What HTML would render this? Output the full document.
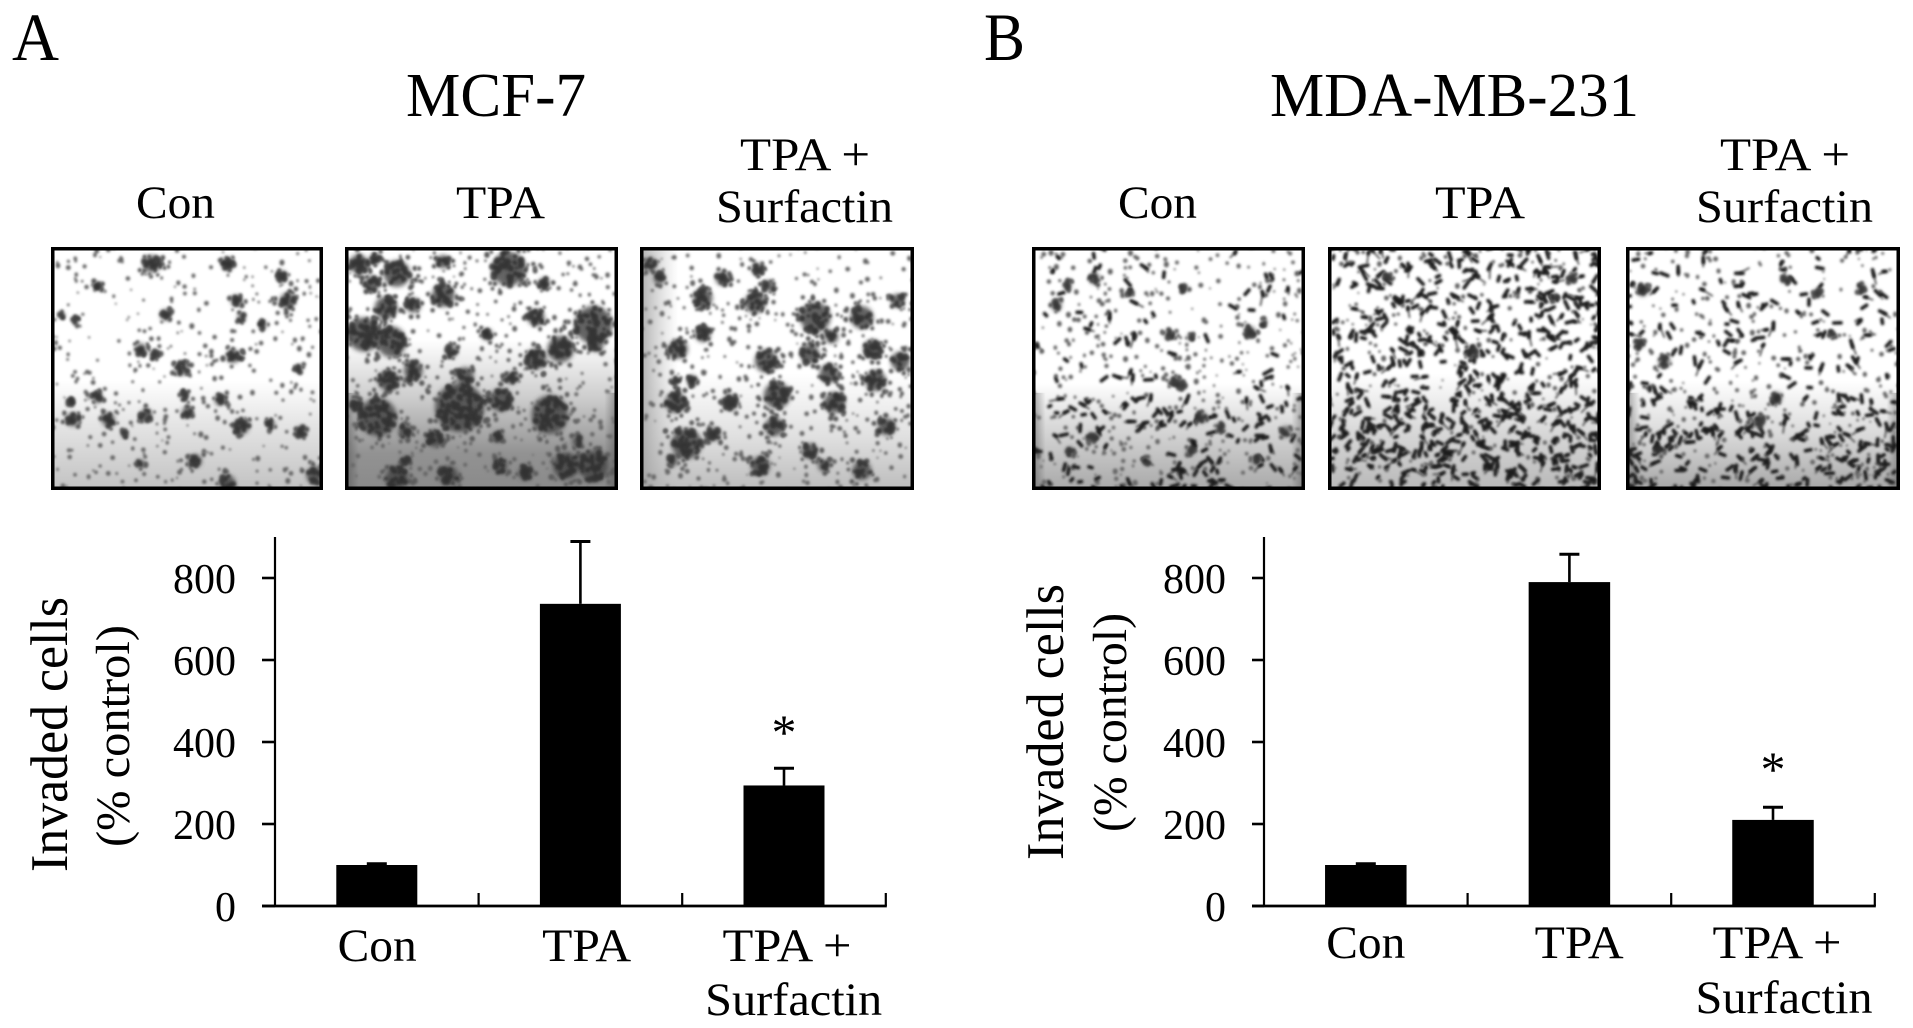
<!DOCTYPE html>
<html lang="en">
<head>
<meta charset="utf-8">
<title>Invasion assay: MCF-7 and MDA-MB-231</title>
<style>
  html,body{margin:0;padding:0;background:#fff;width:1913px;height:1028px;overflow:hidden}
  svg{display:block}
  text{font-family:"Liberation Serif","Times New Roman",serif;fill:#000}
</style>
</head>
<body>
<svg id="figure" width="1913" height="1028" viewBox="0 0 1913 1028" xmlns="http://www.w3.org/2000/svg">
  <defs>
    <filter id="soft" filterUnits="userSpaceOnUse" x="0" y="240" width="1913" height="260"><feGaussianBlur stdDeviation="1.2"/></filter>
    <filter id="softer" filterUnits="userSpaceOnUse" x="0" y="240" width="1913" height="260"><feGaussianBlur stdDeviation="2.4"/></filter>
    <linearGradient id="g0" x1="0" y1="0" x2="0" y2="1"><stop offset=".55" stop-color="#fff"/><stop offset=".72" stop-color="#e6e6e6"/><stop offset="1" stop-color="#c2c2c2"/></linearGradient>
    <linearGradient id="g1" x1="0" y1="0" x2="0" y2="1"><stop offset=".38" stop-color="#fff"/><stop offset=".62" stop-color="#cdcdcd"/><stop offset=".85" stop-color="#929292"/><stop offset="1" stop-color="#8a8a8a"/></linearGradient>
    <linearGradient id="g2" x1="0" y1="0" x2="0" y2="1"><stop offset=".52" stop-color="#fff"/><stop offset=".78" stop-color="#e0e0e0"/><stop offset="1" stop-color="#bcbcbc"/></linearGradient>
    <linearGradient id="g3" x1="0" y1="0" x2="0" y2="1"><stop offset=".56" stop-color="#fff"/><stop offset=".72" stop-color="#dcdcdc"/><stop offset="1" stop-color="#a8a8a8"/></linearGradient>
    <linearGradient id="g4" x1="0" y1="0" x2="0" y2="1"><stop offset=".52" stop-color="#fff"/><stop offset=".76" stop-color="#d8d8d8"/><stop offset="1" stop-color="#b8b8b8"/></linearGradient>
    <linearGradient id="g5" x1="0" y1="0" x2="0" y2="1"><stop offset=".55" stop-color="#fff"/><stop offset=".78" stop-color="#d8d8d8"/><stop offset="1" stop-color="#a6a6a6"/></linearGradient>
    <linearGradient id="edge" x1="0" y1="0" x2="1" y2="0"><stop offset="0" stop-color="#999" stop-opacity=".8"/><stop offset=".14" stop-color="#bbb" stop-opacity="0"/></linearGradient>
    <linearGradient id="rim" x1="0" y1="0" x2="1" y2="0"><stop offset="0" stop-color="#333" stop-opacity=".45"/><stop offset=".05" stop-color="#333" stop-opacity="0"/><stop offset=".95" stop-color="#333" stop-opacity="0"/><stop offset="1" stop-color="#333" stop-opacity=".45"/></linearGradient>
  </defs>

  <text x="12" y="60" font-size="68" textLength="47" lengthAdjust="spacingAndGlyphs">A</text>
  <text x="984" y="60" font-size="68" textLength="41" lengthAdjust="spacingAndGlyphs">B</text>
  <text x="406" y="116" font-size="62" textLength="180" lengthAdjust="spacingAndGlyphs">MCF-7</text>
  <text x="1270" y="116" font-size="62" textLength="369" lengthAdjust="spacingAndGlyphs">MDA-MB-231</text>

  <text x="136" y="218" font-size="47" textLength="79" lengthAdjust="spacingAndGlyphs">Con</text>
  <text x="456" y="218" font-size="47" textLength="89" lengthAdjust="spacingAndGlyphs">TPA</text>
  <text x="740" y="170" font-size="47" textLength="130" lengthAdjust="spacingAndGlyphs">TPA +</text>
  <text x="716" y="222" font-size="47" textLength="177" lengthAdjust="spacingAndGlyphs">Surfactin</text>

  <text x="1118" y="218" font-size="47" textLength="79" lengthAdjust="spacingAndGlyphs">Con</text>
  <text x="1435" y="218" font-size="47" textLength="90" lengthAdjust="spacingAndGlyphs">TPA</text>
  <text x="1720" y="170" font-size="47" textLength="130" lengthAdjust="spacingAndGlyphs">TPA +</text>
  <text x="1696" y="222" font-size="47" textLength="177" lengthAdjust="spacingAndGlyphs">Surfactin</text>

  <g id="m0"></g>
  <g id="m1"></g>
  <g id="m2"></g>
  <g id="m3"></g>
  <g id="m4"></g>
  <g id="m5"></g>

  <text transform="translate(67,872) rotate(-90)" font-size="53" textLength="275" lengthAdjust="spacingAndGlyphs">Invaded cells</text>
  <text transform="translate(129,847) rotate(-90)" font-size="48" textLength="222" lengthAdjust="spacingAndGlyphs">(% control)</text>
  <text transform="translate(1063,860) rotate(-90)" font-size="53" textLength="276" lengthAdjust="spacingAndGlyphs">Invaded cells</text>
  <text transform="translate(1126,832) rotate(-90)" font-size="48" textLength="219" lengthAdjust="spacingAndGlyphs">(% control)</text>

  <g id="chart-a"></g>
  <g id="chart-b"></g>
</svg>

<script>
/* ---------- chart data ---------- */
const categories = ['Con', 'TPA', 'TPA +|Surfactin'];
const yTickValues = [0, 200, 400, 600, 800];
const yTickLabels = ['0', '200', '400', '600', '800'];
const mcf7Values = [100, 737, 294];
const mcf7Errors = [3, 152, 42];
const mcf7Significant = [false, false, true];
const mdaValues = [100, 790, 210];
const mdaErrors = [3, 68, 31];
const mdaSignificant = [false, false, true];

const NS = 'http://www.w3.org/2000/svg';
function make(tag, attrs, parent) {
  const node = document.createElementNS(NS, tag);
  for (const k in attrs) node.setAttribute(k, attrs[k]);
  parent.appendChild(node);
  return node;
}

function drawChart(host, key, values, errors, significant, L) {
  const yScale = v => L.baseY - v * L.pxPerUnit;
  const bandLeft = i => L.axisX + i * L.band;
  const xScale = i => bandLeft(i) + L.band / 2;

  values.forEach((v, i) => {
    const cx = xScale(i);
    const bar = make('rect', {x: cx - L.barW / 2, y: yScale(v), width: L.barW, height: L.baseY - yScale(v), fill: '#000'}, host);
    
    

    const top = yScale(v + errors[i]);
    const stem = make('line', {x1: cx, x2: cx, y1: yScale(v), y2: top, stroke: '#000', 'stroke-width': 2.6}, host);
    
    

    const cap = make('line', {x1: cx - 10, x2: cx + 10, y1: top, y2: top, stroke: '#000', 'stroke-width': 3}, host);
    
    

    if (significant[i]) {
      const star = make('text', {x: cx, y: top - L.starGap, 'font-size': 50, 'text-anchor': 'middle'}, host);
      star.textContent = '*';
      
      
    }

    const lines = categories[i].split('|');
    lines.forEach((line, j) => {
      const wide = line === 'Surfactin';
      const label = make('text', {
        x: cx + L.labelNudge[i] + (wide ? L.surfNudge : 0),
        y: L.labelY + j * L.lineGap,
        'font-size': 47,
        'text-anchor': 'middle',
        textLength: wide ? 177 : (line === 'Con' ? 79 : (line === 'TPA' ? 89 : 129)),
        lengthAdjust: 'spacingAndGlyphs'
      }, host);
      label.textContent = line;
      
      
    });
  });

  const yAxis = make('line', {x1: L.axisX, x2: L.axisX, y1: L.topY, y2: L.baseY + 1, stroke: '#000', 'stroke-width': 2.2}, host);
  
  

  const xAxis = make('line', {x1: L.tickLeft, x2: L.axisX + L.band * categories.length + 1, y1: L.baseY, y2: L.baseY, stroke: '#000', 'stroke-width': 2.8}, host);
  
  

  yTickValues.forEach((t, i) => {
    const y = yScale(t);
    const tick = make('line', {x1: L.tickLeft, x2: L.axisX, y1: y, y2: y, stroke: '#000', 'stroke-width': 2.6}, host);
    
    

    const label = make('text', {x: L.tickLabelX, y: y + 15, 'font-size': 42, 'text-anchor': 'end'}, host);
    label.textContent = yTickLabels[i];
    
    
  });

  categories.forEach((c, i) => {
    const x = bandLeft(i + 1);
    const tick = make('line', {x1: x, x2: x, y1: L.baseY - 13, y2: L.baseY, stroke: '#000', 'stroke-width': 2.2}, host);
    
    
  });
}

drawChart(document.getElementById('chart-a'), 'mcf7', mcf7Values, mcf7Errors, mcf7Significant, {
  axisX: 275, tickLeft: 262, baseY: 906, topY: 537, pxPerUnit: 0.41, band: 203.6, barW: 81,
  tickLabelX: 236, labelY: 961, lineGap: 54, labelNudge: [0.4, 6.2, 3], surfNudge: 6.7, starGap: 19
});
drawChart(document.getElementById('chart-b'), 'mda', mdaValues, mdaErrors, mdaSignificant, {
  axisX: 1264, tickLeft: 1252, baseY: 906, topY: 537, pxPerUnit: 0.41, band: 203.6, barW: 81.5,
  tickLabelX: 1226, labelY: 958, lineGap: 55, labelNudge: [0, 9.8, 4], surfNudge: 7, starGap: 21
});

/* ---------- micrograph textures (photographic content, not chart data) ---------- */
function seeded(a) {
  return function () {
    a |= 0; a = a + 0x6D2B79F5 | 0;
    let t = Math.imul(a ^ a >>> 15, 1 | a);
    t = t + Math.imul(t ^ t >>> 7, 61 | t) ^ t;
    return ((t ^ t >>> 14) >>> 0) / 4294967296;
  };
}
function dot(x, y, r) {
  return 'M' + (x - r).toFixed(1) + ' ' + y.toFixed(1) + 'a' + r.toFixed(1) + ' ' + r.toFixed(1) + ' 0 1 0 ' + (2 * r).toFixed(1) + ' 0a' + r.toFixed(1) + ' ' + r.toFixed(1) + ' 0 1 0 ' + (-2 * r).toFixed(1) + ' 0';
}

const clumpsACon = [[.37,.07,9],[.65,.07,6],[.85,.12,5],[.87,.22,8],[.17,.16,4],[.68,.22,5],[.42,.28,5],[.70,.29,4],[.78,.32,4],[.09,.30,3],[.04,.28,3],[.67,.45,7],[.33,.42,6],[.38,.44,4],[.48,.50,7],[.91,.50,4],[.17,.62,5],[.62,.63,5],[.49,.61,4],[.08,.71,7],[.21,.71,7],[.35,.69,6],[.50,.68,5],[.70,.74,8],[.81,.73,4],[.92,.76,5],[.53,.88,7],[.65,.97,8],[.97,.94,9],[.33,.89,4],[.07,.64,3],[.27,.77,3]];
const clumpsATpa = [[.05,.07,10],[.11,.05,5],[.19,.11,14],[.10,.15,8],[.36,.06,7],[.36,.20,12],[.60,.09,18],[.73,.15,6],[.15,.25,12],[.25,.24,8],[.70,.29,9],[.07,.36,18],[.17,.39,15],[.91,.32,20],[.92,.40,8],[.79,.42,14],[.70,.46,11],[.39,.43,6],[.52,.36,6],[.25,.51,10],[.16,.55,11],[.44,.53,9],[.61,.54,6],[.42,.66,26],[.57,.63,12],[.75,.69,19],[.12,.70,20],[.22,.76,7],[.33,.79,9],[.56,.78,5],[.85,.80,5],[.22,.88,4],[.81,.90,14],[.91,.90,16],[.57,.90,7],[.66,.93,7],[.38,.94,10],[.19,.95,12],[.04,.65,6]];
const clumpsASurf = [[.04,.07,6],[.07,.13,6],[.30,.13,7],[.43,.09,6],[.47,.16,6],[.23,.21,10],[.42,.23,11],[.94,.22,7],[.64,.29,16],[.81,.29,12],[.23,.36,8],[.14,.42,10],[.70,.37,7],[.85,.42,10],[.62,.44,10],[.95,.47,10],[.46,.47,12],[.69,.52,10],[.86,.55,11],[.19,.55,5],[.13,.55,4],[.50,.61,14],[.13,.64,11],[.71,.64,11],[.33,.64,8],[.49,.74,10],[.17,.81,16],[.27,.77,7],[.90,.74,9],[.62,.84,8],[.44,.90,10],[.81,.92,10],[.67,.90,6],[.12,.88,5]];
const clumpsBCon = [[.09,.24,5],[.13,.16,4],[.23,.13,5],[.36,.19,3],[.56,.17,3],[.80,.35,5],[.85,.31,3],[.50,.36,4],[.58,.37,3],[.52,.55,4],[.55,.57,4],[.62,.70,5],[.69,.74,4],[.93,.76,5],[.22,.78,4],[.14,.84,4],[.42,.88,3],[.58,.84,4],[.82,.88,4]];
const clumpsBTpa = [[.53,.43,6],[.89,.13,4],[.83,.21,3],[.22,.13,4]];
const clumpsBSurf = [[.14,.47,6],[.05,.40,4],[.48,.72,6],[.55,.62,5],[.70,.19,4],[.86,.17,4],[.58,.13,4],[.06,.18,5],[.12,.84,4],[.75,.36,3]];

const micrographs = [
  {x: 51,   w: 272, grad: 'g0', seed: 11, clumps: clumpsACon,  specks: 380, streaks: 0,   lowBias: 0},
  {x: 345,  w: 273, grad: 'g1', seed: 22, clumps: clumpsATpa,  specks: 420, streaks: 0,   lowBias: 0, rim: true},
  {x: 640,  w: 274, grad: 'g2', seed: 33, clumps: clumpsASurf, specks: 420, streaks: 0,   lowBias: 0, edge: true},
  {x: 1032, w: 273, grad: 'g3', seed: 44, clumps: clumpsBCon,  specks: 420, streaks: 170, lowBias: 0.55, rim: true},
  {x: 1328, w: 273, grad: 'g4', seed: 55, clumps: clumpsBTpa,  specks: 300, streaks: 620, lowBias: 0.15},
  {x: 1626, w: 274, grad: 'g5', seed: 66, clumps: clumpsBSurf, specks: 360, streaks: 300, lowBias: 0.3, rim: true}
];
const photoTop = 247, photoH = 243;
const defs = document.querySelector('defs');

micrographs.forEach((m, idx) => {
  const host = document.getElementById('m' + idx);
  const rnd = seeded(m.seed);
  const clip = make('clipPath', {id: 'clip' + idx}, defs);
  make('rect', {x: m.x, y: photoTop, width: m.w, height: photoH}, clip);

  const body = make('g', {'clip-path': 'url(#clip' + idx + ')'}, host);
  const bg = make('rect', {x: m.x, y: photoTop, width: m.w, height: photoH, fill: 'url(#' + m.grad + ')'}, body);
  
  

  if (m.edge) {
    const edge = make('rect', {x: m.x, y: photoTop, width: m.w, height: photoH, fill: 'url(#edge)'}, body);
    
    
  }
  if (m.rim) {
    const rim = make('rect', {x: m.x, y: photoTop + photoH * 0.6, width: m.w, height: photoH * 0.4, fill: 'url(#rim)'}, body);
    
    
  }

  let speck = '';
  for (let i = 0; i < m.specks; i++) {
    speck += dot(m.x + rnd() * m.w, photoTop + rnd() * photoH, 1 + rnd() * 1.5);
  }
  const specks = make('path', {d: speck, fill: '#666', filter: 'url(#soft)'}, body);
  
  

  if (m.streaks) {
    let s = '';
    let thin = '';
    for (let i = 0; i < m.streaks; i++) {
      let v = rnd();
      if (rnd() < m.lowBias) v = 0.62 + 0.38 * rnd();
      const x = m.x + rnd() * m.w, y = photoTop + v * photoH;
      const a = rnd() * Math.PI, len = 1 + rnd() * 3;
      s += 'M' + (x - Math.cos(a) * len).toFixed(1) + ' ' + (y - Math.sin(a) * len).toFixed(1) + 'L' + (x + Math.cos(a) * len).toFixed(1) + ' ' + (y + Math.sin(a) * len).toFixed(1);
      if (i % 3 === 0) {
        const b = a + (rnd() - 0.5), tail = 5 + rnd() * 7;
        thin += 'M' + x.toFixed(1) + ' ' + y.toFixed(1) + 'L' + (x + Math.cos(b) * tail).toFixed(1) + ' ' + (y + Math.sin(b) * tail).toFixed(1);
      }
    }
    const tails = make('path', {d: thin, fill: 'none', stroke: '#444', 'stroke-width': 1.6, 'stroke-linecap': 'round', filter: 'url(#soft)'}, body);
    
    

    const streaks = make('path', {d: s, fill: 'none', stroke: '#1c1c1c', 'stroke-width': 3.6, 'stroke-linecap': 'round', filter: 'url(#soft)'}, body);
    
    
  }

  let halo = '';
  let clump = '';
  let satellites = '';
  m.clumps.forEach(c => {
    const cx = m.x + c[0] * m.w, cy = photoTop + c[1] * photoH, r = c[2];
    halo += dot(cx, cy, r * 0.95);
    const n = Math.round(r * r * 0.12) + 5;
    for (let i = 0; i < n; i++) {
      const ang = rnd() * Math.PI * 2, d = Math.sqrt(rnd()) * r * 0.95;
      clump += dot(cx + Math.cos(ang) * d, cy + Math.sin(ang) * d, 1.4 + rnd() * 2);
    }
    for (let i = 0; i < r * 0.8; i++) {
      const ang = rnd() * Math.PI * 2, d = r * (1.05 + rnd() * 0.5);
      satellites += dot(cx + Math.cos(ang) * d, cy + Math.sin(ang) * d, 1.2 + rnd() * 1.6);
    }
  });
  if (clump) {
    const haloPath = make('path', {d: halo, fill: '#4a4a4a', opacity: 0.85, filter: 'url(#softer)'}, body);
    
    

    const satPath = make('path', {d: satellites, fill: '#5c5c5c', filter: 'url(#soft)'}, body);
    
    

    const clumps = make('path', {d: clump, fill: '#2a2a2a', opacity: 0.8, filter: 'url(#soft)'}, body);
    
    
  }

  const frame = make('rect', {x: m.x + 1.75, y: photoTop + 1.75, width: m.w - 3.5, height: photoH - 3.5, fill: 'none', stroke: '#000', 'stroke-width': 3.5}, host);
  
  
});
</script>
</body>
</html>
